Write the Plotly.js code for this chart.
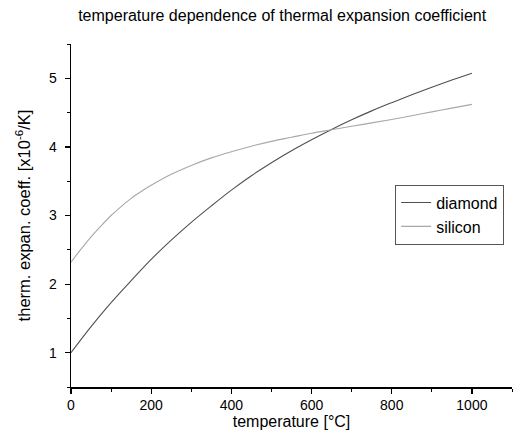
<!DOCTYPE html>
<html>
<head>
<meta charset="utf-8">
<script src="https://cdn.plot.ly/plotly-3.0.1.min.js"></script>
<style>html,body{margin:0;padding:0;background:#fff;}#chart{width:513px;height:441px;}</style>
</head>
<body>
<div id="chart"></div>
<script>
var diamondT = [0,50,100,150,200,250,300,350,400,450,500,550,600,650,700,750,800,850,900,950,1000];
var diamondAlpha = [1.00,1.38,1.73,2.05,2.36,2.64,2.90,3.14,3.37,3.58,3.77,3.945,4.105,4.255,4.395,4.525,4.645,4.76,4.87,4.975,5.075];
var siliconT = [0,25,50,75,100,125,150,175,200,250,300,350,400,450,500,550,600,650,700,750,800,850,900,950,1000];
var siliconAlpha = [2.32,2.51,2.69,2.85,3.00,3.13,3.25,3.35,3.44,3.60,3.73,3.84,3.93,4.01,4.08,4.14,4.20,4.25,4.30,4.35,4.40,4.455,4.51,4.565,4.62];
var seriesNames = ["diamond","silicon"];

var font = "Liberation Sans, Arial, sans-serif";
var traces = [
  {x: diamondT, y: diamondAlpha, name: seriesNames[0], mode: "lines",
   line: {color: "#505050", width: 1.1, shape: "spline", smoothing: 1}},
  {x: siliconT, y: siliconAlpha, name: seriesNames[1], mode: "lines",
   line: {color: "#a8a8a8", width: 1.1, shape: "spline", smoothing: 1}}
];
var layout = {
  width: 513, height: 441,
  margin: {l: 71, r: 1, t: 44, b: 54},
  paper_bgcolor: "#fff", plot_bgcolor: "#fff",
  font: {family: font, color: "#000", size: 14},
  title: {text: "temperature dependence of thermal expansion coefficient",
          font: {size: 16, family: font}, x: 0.55, xanchor: "center", y: 0.965, yanchor: "middle"},
  xaxis: {range: [0, 1100], tickvals: [0,200,400,600,800,1000], showgrid: false, zeroline: false,
          showline: true, linecolor: "#000", linewidth: 1.5, ticks: "outside", ticklen: 5, tickwidth: 1.2, tickcolor: "#000",
          minor: {tickvals: [100,300,500,700,900,1100], ticks: "outside", ticklen: 3, tickcolor: "#000", tickwidth: 1},
          tickfont: {size: 14}, title: {text: "temperature [°C]", font: {size: 16}, standoff: 2}},
  yaxis: {range: [0.5, 5.5], tickvals: [1,2,3,4,5], showgrid: false, zeroline: false,
          showline: true, linecolor: "#000", linewidth: 1.5, ticks: "outside", ticklen: 5, tickwidth: 1.2, tickcolor: "#000",
          minor: {tickvals: [0.5,1.5,2.5,3.5,4.5,5.5], ticks: "outside", ticklen: 3, tickcolor: "#000", tickwidth: 1},
          ticklabelstandoff: 5,
          tickfont: {size: 14}, title: {text: "therm. expan. coeff. [x10<sup>-6</sup>/K]", font: {size: 16.5}, standoff: 14}},
  legend: {x: 0.735, y: 0.59, xanchor: "left", yanchor: "top", bordercolor: "#555", borderwidth: 1,
           bgcolor: "#fff", font: {size: 16}, tracegroupgap: 0, itemwidth: 30},
  showlegend: true
};
Plotly.newPlot("chart", traces, layout, {displayModeBar: false, staticPlot: true});
</script>
</body>
</html>
